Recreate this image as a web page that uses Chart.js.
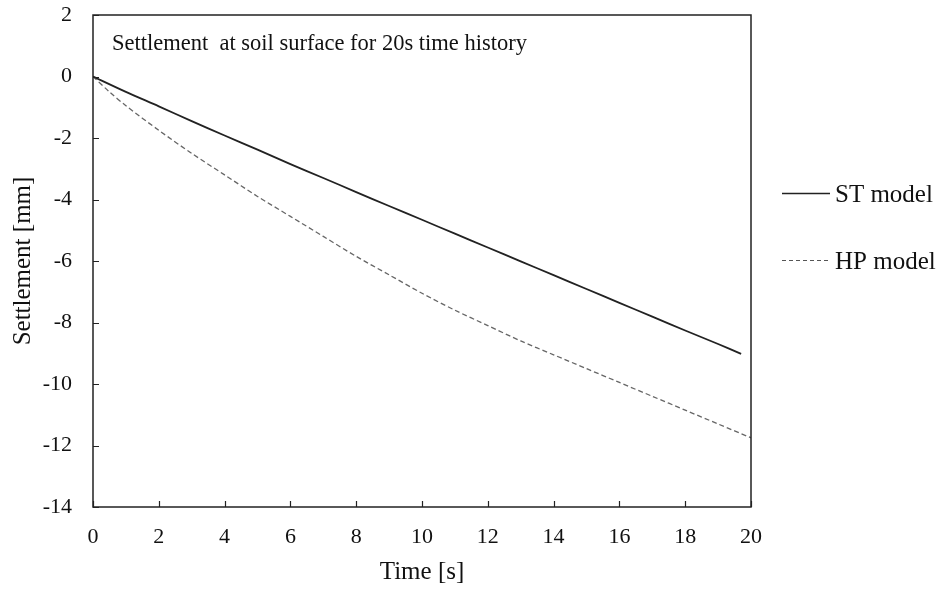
<!DOCTYPE html>
<html>
<head>
<meta charset="utf-8">
<script src="https://cdn.jsdelivr.net/npm/chart.js@4"></script>
<style>
  html, body { margin: 0; padding: 0; background: #fff; }
  #wrap { width: 950px; height: 591px; position: relative; }
</style>
</head>
<body>
<div id="wrap"><canvas id="settleChart"></canvas></div>
<script>
const stTime = [0, 1, 2, 3, 4, 5, 6, 7, 8, 9, 10, 11, 12, 13, 14, 15, 16, 17, 18, 19, 19.7];
const stValues = [0, -0.5, -0.97, -1.45, -1.92, -2.38, -2.85, -3.3, -3.76, -4.21, -4.66, -5.11, -5.56, -6.01, -6.46, -6.91, -7.36, -7.81, -8.26, -8.7, -9.02];
const hpTime = [0, 0.5, 1, 2, 3, 4, 5, 6, 7, 8, 9, 10, 11, 12, 13, 14, 15, 16, 17, 18, 19, 20];
const hpValues = [0, -0.5, -0.95, -1.75, -2.5, -3.2, -3.9, -4.55, -5.2, -5.85, -6.45, -7.05, -7.6, -8.1, -8.6, -9.05, -9.5, -9.95, -10.4, -10.85, -11.3, -11.75];
const xTicks = [0, 2, 4, 6, 8, 10, 12, 14, 16, 18, 20];
const yTicks = [2, 0, -2, -4, -6, -8, -10, -12, -14];
const seriesNames = ["ST model", "HP model"];
const chartTitle = "Settlement  at soil surface for 20s time history";

const serif = "'Liberation Serif', 'Times New Roman', serif";

// frame, inward ticks, title and legend
const framePlugin = {
  id: "frame",
  afterDraw(chart) {
    const { ctx, chartArea: a, scales } = chart;
    ctx.save();
    ctx.strokeStyle = "#222";
    ctx.lineWidth = 1.5;
    ctx.strokeRect(a.left, a.top, a.right - a.left, a.bottom - a.top);
    ctx.lineWidth = 1.2;
    ctx.beginPath();
    xTicks.forEach((t) => {
      const px = Math.round(scales.x.getPixelForValue(t)) + 0.5;
      ctx.moveTo(px, a.bottom);
      ctx.lineTo(px, a.bottom - 6);
    });
    yTicks.forEach((t) => {
      const py = Math.round(scales.y.getPixelForValue(t)) + 0.5;
      ctx.moveTo(a.left, py);
      ctx.lineTo(a.left + 6, py);
    });
    ctx.stroke();

    ctx.fillStyle = "#111";
    ctx.font = "22.5px " + serif;
    ctx.textBaseline = "alphabetic";
    ctx.textAlign = "left";
    ctx.fillText(chartTitle, 112, 50);

    // legend
    const items = [
      { y: 193, color: "#222", dash: [], width: 1.5 },
      { y: 260, color: "#555", dash: [4, 3], width: 1.2 }
    ];
    items.forEach((it, i) => {
      ctx.strokeStyle = it.color;
      ctx.lineWidth = it.width;
      ctx.setLineDash(it.dash);
      ctx.beginPath();
      ctx.moveTo(782, it.y + 0.5);
      ctx.lineTo(830, it.y + 0.5);
      ctx.stroke();
      ctx.setLineDash([]);
      ctx.fillStyle = "#111";
      ctx.font = "25px " + serif;
      ctx.fillText(seriesNames[i], 835, it.y + 9);
    });
    ctx.restore();
  }
};

const toPoints = (xs, ys) => xs.map((x, i) => ({ x: x, y: ys[i] }));

new Chart(document.getElementById("settleChart"), {
  type: "line",
  data: {
    datasets: [
      {
        label: seriesNames[0],
        data: toPoints(stTime, stValues),
        borderColor: "#222",
        borderWidth: 1.8,
        pointRadius: 0,
        tension: 0.3
      },
      {
        label: seriesNames[1],
        data: toPoints(hpTime, hpValues),
        borderColor: "#666",
        borderWidth: 1.3,
        borderDash: [5, 3],
        pointRadius: 0,
        tension: 0.3
      }
    ]
  },
  options: {
    responsive: true,
    maintainAspectRatio: false,
    animation: false,
    layout: { padding: { top: 15, right: 199, left: 0, bottom: 0 } },
    plugins: {
      legend: { display: false },
      tooltip: { enabled: false }
    },
    scales: {
      x: {
        type: "linear",
        min: 0,
        max: 20,
        afterBuildTicks: (s) => { s.ticks = xTicks.map((v) => ({ value: v })); },
        afterFit: (s) => { s.height = 84; s.paddingLeft = 0; s.paddingRight = 0; },
        grid: { display: false, drawTicks: false },
        border: { display: false },
        ticks: {
          color: "#111",
          font: { family: serif, size: 22 },
          padding: 17
        },
        title: {
          display: true,
          text: "Time [s]",
          color: "#111",
          font: { family: serif, size: 25 },
          padding: { top: 2 }
        }
      },
      y: {
        min: -14,
        max: 2,
        afterBuildTicks: (s) => { s.ticks = yTicks.map((v) => ({ value: v })); },
        afterFit: (s) => { s.width = 93; s.paddingTop = 0; s.paddingBottom = 0; },
        grid: { display: false, drawTicks: false },
        border: { display: false },
        ticks: {
          color: "#111",
          font: { family: serif, size: 22 },
          padding: 21
        },
        title: {
          display: true,
          text: "Settlement [mm]",
          color: "#111",
          font: { family: serif, size: 25 },
          padding: { top: 8, bottom: 0 }
        }
      }
    }
  },
  plugins: [framePlugin]
});
</script>
</body>
</html>
